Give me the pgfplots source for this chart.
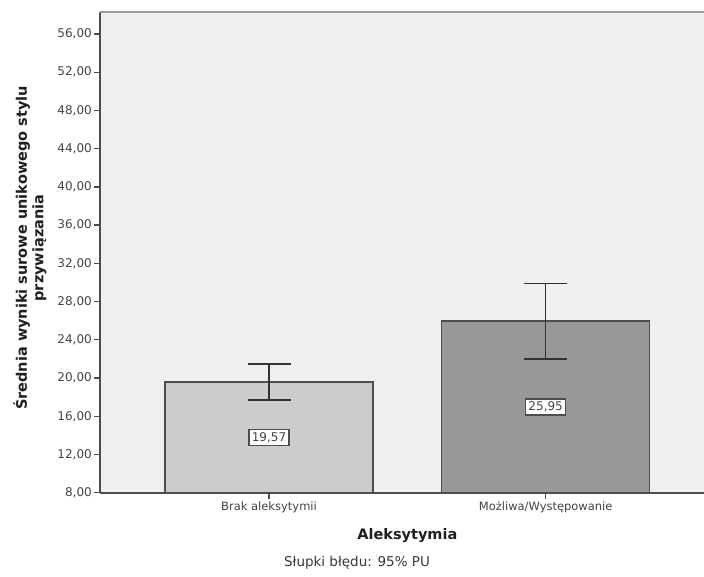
\documentclass[border=0pt]{standalone}
\usepackage{fontspec}
\setmainfont{DejaVu Sans}
\usepackage{pgfplots}
\pgfplotsset{compat=1.18}
\definecolor{panel}{HTML}{EFF0EF}
\definecolor{barA}{HTML}{CCCCCC}
\definecolor{barB}{HTML}{989898}
\definecolor{edge}{HTML}{4D4D4D}
\definecolor{errc}{HTML}{333333}
\definecolor{ticktext}{HTML}{444444}
\definecolor{topline}{HTML}{9A9A9A}
\begin{document}
\begin{tikzpicture}
\useasboundingbox (0,0) rectangle (704pt,576pt);
\clip (0,0) rectangle (704pt,576pt);
\begin{axis}[
  at={(100pt,83.3pt)}, anchor=south west,
  scale only axis, width=614.7pt, height=480.7pt,
  xmin=-0.611, xmax=1.611, ymin=8, ymax=58.3,
  axis background/.style={fill=panel},
  axis x line*=bottom, axis y line*=left,
  axis line style={edge, line width=1.6pt, -},
  xtick={0,1},
  xticklabels={Brak aleksytymii, Możliwa/Występowanie},
  ytick={8,12,...,56},
  tick align=outside, major tick length=6.5pt,
  tick style={edge, line width=1.3pt},
  /pgf/number format/fixed,
  /pgf/number format/fixed zerofill,
  /pgf/number format/precision=2,
  /pgf/number format/use comma,
  /pgf/number format/assume math mode=true,
  yticklabel style={font=\fontsize{12}{14}\selectfont, text=ticktext, inner sep=1.5pt},
  xticklabel style={font=\fontsize{11.5}{13}\selectfont, text=ticktext, inner sep=2pt},
  xlabel={Aleksytymia},
  xlabel style={font=\bfseries\fontsize{14.5}{17}\selectfont, text=black!88,
    at={(rel axis cs:0.5,0)}, anchor=center, yshift=-42.5pt},
  after end axis/.code={
    \draw[topline, line width=1.8pt] (rel axis cs:0,1) -- (rel axis cs:1,1);
  },
]
% group means with 95% confidence intervals
\addplot[ybar, bar width=208pt, bar shift=0pt, fill=barA, draw=edge, line width=1.6pt,
  error bars/.cd, y dir=both, y explicit,
  error bar style={errc, line width=1.5pt},
  error mark options={rotate=90, mark size=21.5pt, line width=1.5pt, errc}]
  coordinates {(0,19.57) +- (0,1.88)};
\addplot[ybar, bar width=208pt, bar shift=0pt, fill=barB, draw=edge, line width=1.6pt,
  error bars/.cd, y dir=both, y explicit,
  error bar style={errc, line width=1.5pt},
  error mark options={rotate=90, mark size=21.5pt, line width=1.5pt, errc}]
  coordinates {(1,25.95) +- (0,3.94)};
% value labels, placed halfway between the baseline (8) and each mean
\addplot[draw=none, mark=none, nodes near coords, point meta=explicit,
  nodes near coords align={center},
  every node near coord/.append style={anchor=center, fill=white, draw=edge,
    line width=1.3pt, inner sep=2.8pt, font=\fontsize{12}{14}\selectfont, text=ticktext}]
  coordinates {(0,13.785) [19.57] (1,16.975) [25.95]};
\end{axis}
\node[rotate=90, align=center, font=\bfseries\fontsize{14.5}{16.5}\selectfont, text=black!88]
  at (30pt,328pt) {Średnia wyniki surowe unikowego stylu\\przywiązania};
\node[font=\fontsize{13.5}{16}\selectfont, text=black!78] at (357pt,13pt)
  {Słupki błędu: 95\% PU};
\end{tikzpicture}
\end{document}
